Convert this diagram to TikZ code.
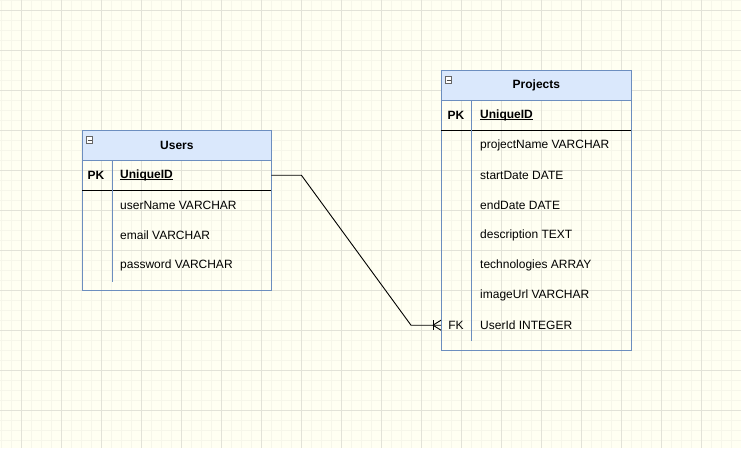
\documentclass[tikz,border=0pt]{standalone}
\usepackage{fontspec}
\setmainfont{Liberation Sans}
\definecolor{bgc}{RGB}{255,255,242}
\definecolor{gminor}{RGB}{246,246,234}
\definecolor{gmajor}{RGB}{226,226,216}
\definecolor{hdr}{RGB}{218,232,252}
\definecolor{bdr}{RGB}{108,142,191}
\newcommand\myul[1]{\setbox0\hbox{#1}\rlap{\rule[-1.8pt]{\wd0}{0.8pt}}\box0}
\tikzset{
  tbl/.style={draw=bdr, line width=0.8pt, anchor=north west, inner sep=0pt, minimum width=#1},
  hdrbox/.style={draw=bdr, fill=hdr, line width=0.8pt, anchor=north west, inner sep=0pt, minimum width=#1, minimum height=30pt,
     font=\fontsize{12}{14}\selectfont\bfseries},
  keytxt/.style={font=\fontsize{12}{14}\selectfont\bfseries, inner sep=0pt},
  fktxt/.style={font=\fontsize{12}{14}\selectfont, inner sep=0pt},
  rowtxt/.style={font=\fontsize{12}{14}\selectfont, anchor=west, inner sep=0pt},
  rowbox/.style={anchor=north west, inner sep=0pt, minimum width=#1, minimum height=30pt},
  divline/.style={draw=bdr, line width=0.8pt},
  sepline/.style={draw=black, line width=0.9pt},
  conn/.style={draw=black, line width=0.9pt},
  colicon/.style={draw=black!60, fill=white, line width=0.6pt, minimum size=6.5pt, inner sep=0pt}
}
\begin{document}
\begin{tikzpicture}[x=1pt,y=-1pt]
\useasboundingbox (0,0) rectangle (741,448);
\fill[bgc] (0,0) rectangle (741,448);
% grid
\foreach \x in {1,11,...,741} \draw[gminor, line width=0.6pt] (\x,0) -- (\x,448);
\foreach \y in {0,10,...,448} \draw[gminor, line width=0.6pt] (0,\y) -- (741,\y);
\foreach \x in {21,61,...,741} \draw[gmajor, line width=0.7pt] (\x,0) -- (\x,448);
\foreach \y in {10,50,...,448} \draw[gmajor, line width=0.7pt] (0,\y) -- (741,\y);

% ---------- Users ----------
\node[tbl=189pt, minimum height=160pt] (users) at (82,130) {};
\node[hdrbox=189pt] (usershead) at (82,130) {Users};
\node[colicon] (usersicon) at (89.5,140) {};
\draw[black!70, line width=0.6pt] ([xshift=-2pt]usersicon.center) -- ([xshift=2pt]usersicon.center);
\node[rowbox=189pt] (userspk) at (82,160) {};
\node[keytxt] (userspkl) at (96,175) {PK};
\node[rowtxt, font=\fontsize{12}{14}\selectfont\bfseries] (userspkn) at (120,175) {\myul{UniqueID}};
\draw[sepline] (82,190) -- (271,190);
\draw[divline] (112,160) -- (112,282);
\node[rowtxt] (u1) at (120,205) {userName VARCHAR};
\node[rowtxt] (u2) at (120,235) {email VARCHAR};
\node[rowtxt] (u3) at (120,265) {password VARCHAR};

% ---------- Projects ----------
\node[tbl=190pt, minimum height=280pt] (proj) at (441,70) {};
\node[hdrbox=190pt] (projhead) at (441,70) {Projects};
\node[colicon] (projicon) at (448.5,80) {};
\draw[black!70, line width=0.6pt] ([xshift=-2pt]projicon.center) -- ([xshift=2pt]projicon.center);
\node[keytxt] (projpkl) at (456,115) {PK};
\node[rowtxt, font=\fontsize{12}{14}\selectfont\bfseries] (projpkn) at (480,115) {\myul{UniqueID}};
\draw[sepline] (441,130) -- (631,130);
\draw[divline] (471,100) -- (471,341);
\node[rowtxt] (p1) at (480,145) {projectName VARCHAR};
\node[rowtxt] (p2) at (480,175) {startDate DATE};
\node[rowtxt] (p3) at (480,205) {endDate DATE};
\node[rowtxt] (p4) at (480,235) {description TEXT};
\node[rowtxt] (p5) at (480,265) {technologies ARRAY};
\node[rowtxt] (p6) at (480,295) {imageUrl VARCHAR};
\node[rowbox=190pt] (projfk) at (441,310) {};
\node[fktxt] (projfkl) at (456,325) {FK};
\node[rowtxt] (p7) at (480,325) {UserId INTEGER};

% ---------- connector ----------
\coordinate (c1) at ([xshift=30pt]userspk.east);
\coordinate (c2) at ([xshift=-30pt]projfk.west);
\draw[conn] (userspk.east) -- (c1) -- (c2) -- (projfk.west);
% many-mandatory end
\draw[conn] ([xshift=-8pt]projfk.west) -- ([yshift=5pt]projfk.west);
\draw[conn] ([xshift=-8pt]projfk.west) -- ([yshift=-5pt]projfk.west);
\draw[conn] ([xshift=-8pt,yshift=5pt]projfk.west) -- ([xshift=-8pt,yshift=-5pt]projfk.west);
\end{tikzpicture}
\end{document}
